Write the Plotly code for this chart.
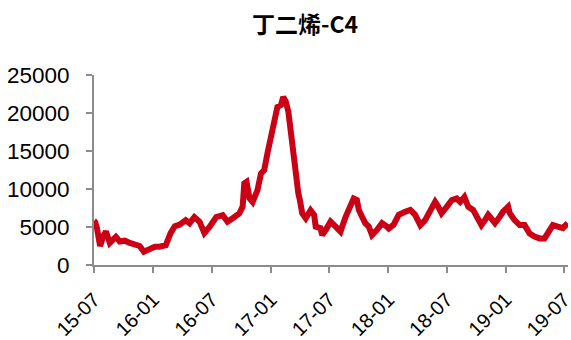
import plotly.graph_objects as go

dates = [
    "2015-07-01", "2015-07-04", "2015-07-10", "2015-07-20", "2015-07-29", "2015-08-07", "2015-08-19",
    "2015-08-26", "2015-09-07", "2015-09-19", "2015-10-05", "2015-10-20", "2015-11-05",
    "2015-11-20", "2015-12-03", "2015-12-21", "2016-01-06", "2016-01-21", "2016-02-09",
    "2016-02-24", "2016-03-08", "2016-03-23", "2016-04-11", "2016-04-23", "2016-05-08",
    "2016-05-24", "2016-06-08", "2016-06-24", "2016-07-15", "2016-08-04", "2016-08-19",
    "2016-09-04", "2016-09-25", "2016-10-05", "2016-10-10", "2016-10-17", "2016-10-26",
    "2016-11-05", "2016-11-20", "2016-12-01", "2016-12-11", "2016-12-21", "2017-01-01",
    "2017-01-11", "2017-01-21", "2017-02-01", "2017-02-08", "2017-02-16", "2017-02-24",
    "2017-03-03", "2017-03-11", "2017-03-19", "2017-03-27", "2017-04-01", "2017-04-08",
    "2017-04-19", "2017-05-04", "2017-05-15", "2017-05-20", "2017-06-04", "2017-06-09",
    "2017-06-20", "2017-07-05", "2017-07-21", "2017-08-05", "2017-08-21", "2017-08-31",
    "2017-09-10", "2017-09-15", "2017-09-25", "2017-10-01", "2017-10-11", "2017-10-21",
    "2017-11-01", "2017-11-11", "2017-11-26", "2017-12-12", "2017-12-27", "2018-01-02",
    "2018-01-17", "2018-02-02", "2018-02-22", "2018-03-10", "2018-03-25", "2018-04-10",
    "2018-04-25", "2018-05-11", "2018-05-26", "2018-06-05", "2018-06-15", "2018-07-01",
    "2018-07-17", "2018-08-01", "2018-08-12", "2018-08-25", "2018-09-06", "2018-09-21",
    "2018-10-02", "2018-10-17", "2018-10-28", "2018-11-07", "2018-11-12", "2018-11-28",
    "2018-12-13", "2018-12-23", "2019-01-08", "2019-01-13", "2019-01-28", "2019-02-13",
    "2019-02-28", "2019-03-16", "2019-03-31", "2019-04-16", "2019-05-01", "2019-05-17",
    "2019-05-27", "2019-06-11", "2019-06-27", "2019-07-12",
]
prices = [
    5800, 5700, 4900, 2500, 3700, 4400, 2900,
    3300, 3700, 3100, 3200, 2900, 2600,
    2500, 1750, 2200, 2400, 2400, 2600,
    4200, 5100, 5300, 5900, 5500, 6300,
    5700, 4200, 5000, 6300, 6550, 5700,
    6150, 6800, 7700, 10750, 10950, 8800,
    8300, 9850, 12050, 12500, 14700, 16900,
    19500, 20800, 21050, 22100, 21500, 20150,
    17750, 14700, 13400, 9400, 8500, 6800,
    6150, 7200, 6600, 5050, 4850, 3950,
    4600, 5700, 5050, 4400, 6350, 7250,
    8100, 8750, 8550, 7250, 6350, 5500,
    5050, 3950, 4600, 5500, 5050, 4800,
    5300, 6600, 7000, 7250, 6600, 5250,
    5900, 7250, 8300, 7650, 6800, 7650,
    8550, 8750, 8300, 8950, 7650, 7250,
    6350, 5250, 5900, 6600, 6350, 5500,
    6350, 7000, 7650, 6800, 5900, 5250,
    5250, 4150, 3750, 3500, 3500, 4400,
    5250, 5050, 4850, 5500,
]

tick_dates = ["2015-07-01", "2016-01-01", "2016-07-01", "2017-01-01", "2017-07-01",
              "2018-01-01", "2018-07-01", "2019-01-01", "2019-07-01"]
tick_labels = ["15-07", "16-01", "16-07", "17-01", "17-07", "18-01", "18-07", "19-01", "19-07"]
y_ticks = [0, 5000, 10000, 15000, 20000, 25000]

fig = go.Figure(go.Scatter(
    x=dates, y=prices, mode="lines",
    line=dict(color="#CC0014", width=6, shape="linear"),
    hoverinfo="skip",
))

fig.update_layout(
    width=571, height=340,
    margin=dict(l=94, r=3, t=75, b=75, autoexpand=False),
    paper_bgcolor="white", plot_bgcolor="white",
    showlegend=False,
    title=dict(text="<b>丁二烯-C4</b>", x=305 / 571, xref="container", xanchor="center",
               y=1 - 25 / 340, yref="container", yanchor="middle",
               font=dict(family="Noto Sans CJK SC", size=23, color="black")),
    font=dict(family="Liberation Sans, Arial", size=20, color="black"),
)

fig.update_xaxes(
    type="date", range=["2015-07-01", "2019-07-13"], automargin=False,
    tickvals=tick_dates, ticktext=tick_labels, tickangle=-45,
    showline=True, linecolor="#8c8c8c", linewidth=2,
    ticks="outside", ticklen=6, tickwidth=2, tickcolor="#8c8c8c",
    showgrid=False, zeroline=False, ticklabelstandoff=7,
    ticklabeloverflow="allow",
    tickfont=dict(family="Liberation Sans, Arial", size=20, color="black"),
)
fig.update_yaxes(
    range=[0, 25000], tickvals=y_ticks, ticktext=[str(v) for v in y_ticks],
    automargin=False,
    showline=True, linecolor="#8c8c8c", linewidth=2,
    ticks="outside", ticklen=6, tickwidth=2, tickcolor="#8c8c8c",
    showgrid=False, zeroline=False, ticklabelstandoff=12,
    tickfont=dict(family="Liberation Sans, Arial", size=22.5, color="black"),
)

fig.write_html("out.html", config={"displayModeBar": False},
               post_script="document.body.style.margin='0';")
